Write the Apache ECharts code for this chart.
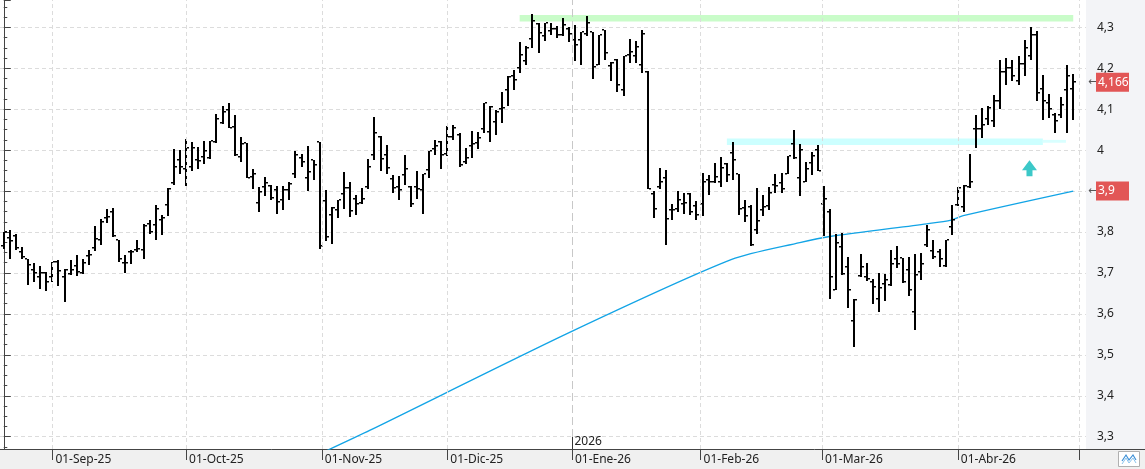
<!DOCTYPE html>
<html>
<head>
<meta charset="utf-8">
<title>Cotización diaria</title>
<script src="https://cdn.jsdelivr.net/npm/echarts@6/dist/echarts.min.js"></script>
<style>
html,body{margin:0;padding:0;background:#fff;}
#chart{width:1145px;height:469px;}
</style>
</head>
<body>
<div id="chart"></div>
<script>
// sesiones: primer día y festivos de mercado
var firstDay = '2025-08-20';
var holidays = ['2025-12-25', '2025-12-26', '2026-01-01', '2026-04-03', '2026-04-06'];

// OHLC
var opens = [3.765,3.785,3.79,3.75,3.733,3.706,3.69,3.70,3.69,3.727,3.69,3.698,3.718,3.70,3.741,3.762,3.781,3.834,3.85,3.781,
3.725,3.75,3.755,3.757,3.819,3.818,3.83,3.866,3.92,3.977,3.955,3.958,3.976,3.983,3.98,4.019,4.066,4.098,4.056,3.983,
4.017,3.935,3.872,3.91,3.912,3.902,3.879,3.903,3.942,3.98,3.932,3.975,4.02,3.875,3.842,3.853,3.893,3.907,3.88,3.87,
3.91,3.989,4.033,3.989,3.93,3.911,3.94,3.911,3.91,3.903,3.952,4.002,4.021,3.99,4.033,4.037,3.971,4.009,4.017,4.052,
4.044,4.068,4.101,4.147,4.181,4.2,4.218,4.271,4.308,4.279,4.292,4.295,4.281,4.296,4.268,4.268,4.284,4.289,4.208,4.293,
4.206,4.22,4.146,4.232,4.23,4.209,4.192,3.893,3.91,3.932,3.853,3.856,3.869,3.893,3.864,3.869,3.928,3.921,3.923,3.965,
3.993,3.942,3.858,3.861,3.805,3.853,3.863,3.915,3.919,3.942,4.014,3.932,3.923,3.968,4.0,3.868,3.848,3.659,3.764,3.715,
3.582,3.692,3.69,3.678,3.636,3.672,3.671,3.735,3.736,3.708,3.605,3.702,3.768,3.754,3.75,3.716,3.813,3.867,3.862,3.909,
4.051,4.051,4.076,4.07,4.12,4.19,4.2,4.17,4.21,4.23,4.28,4.15,4.115,4.085,4.085,4.146,4.15];
var highs = [3.80,3.806,3.794,3.763,3.735,3.725,3.716,3.703,3.726,3.732,3.709,3.732,3.744,3.735,3.757,3.814,3.831,3.857,3.858,3.781,
3.743,3.757,3.78,3.819,3.829,3.865,3.841,3.907,4.003,4.0,4.026,4.021,4.008,4.022,4.022,4.089,4.107,4.116,4.086,4.032,
4.017,3.955,3.91,3.934,3.916,3.912,3.913,3.921,3.998,3.991,4.011,3.976,4.02,3.903,3.861,3.879,3.947,3.923,3.891,3.907,
3.979,4.08,4.035,4.012,3.94,3.936,3.989,3.913,3.948,3.942,3.998,4.025,4.023,4.058,4.062,4.041,4.006,4.046,4.044,4.116,
4.107,4.098,4.143,4.18,4.196,4.263,4.254,4.333,4.31,4.311,4.311,4.303,4.322,4.30,4.306,4.289,4.328,4.289,4.281,4.293,
4.216,4.222,4.23,4.271,4.267,4.293,4.193,3.899,3.956,3.952,3.869,3.899,3.895,3.895,3.875,3.944,3.94,3.968,3.983,3.968,
4.019,3.942,3.879,3.867,3.908,3.891,3.91,3.942,3.944,3.986,4.05,4.016,3.972,3.996,4.012,3.912,3.856,3.796,3.798,3.739,
3.637,3.747,3.725,3.686,3.70,3.697,3.755,3.765,3.736,3.738,3.747,3.749,3.817,3.78,3.758,3.78,3.866,3.909,3.915,3.991,
4.086,4.102,4.108,4.135,4.22,4.225,4.22,4.23,4.27,4.30,4.29,4.184,4.137,4.09,4.129,4.208,4.186];
var lows = [3.759,3.734,3.757,3.734,3.671,3.678,3.66,3.656,3.678,3.669,3.629,3.696,3.693,3.698,3.72,3.754,3.769,3.822,3.788,3.727,
3.701,3.722,3.751,3.734,3.794,3.781,3.793,3.839,3.915,3.942,3.912,3.95,3.954,3.965,3.978,4.017,4.063,4.055,3.986,3.97,
3.933,3.904,3.848,3.888,3.879,3.845,3.854,3.877,3.933,3.958,3.899,3.926,3.759,3.777,3.771,3.834,3.856,3.837,3.842,3.869,
3.904,3.976,3.948,3.942,3.895,3.877,3.914,3.861,3.88,3.843,3.931,3.989,3.954,3.986,4.025,3.96,3.966,3.98,4.003,4.041,
4.021,4.037,4.066,4.107,4.147,4.189,4.207,4.25,4.238,4.267,4.281,4.273,4.278,4.265,4.217,4.207,4.279,4.173,4.208,4.22,
4.17,4.141,4.131,4.212,4.213,4.189,3.905,3.834,3.904,3.769,3.829,3.85,3.845,3.842,3.829,3.839,3.891,3.92,3.911,3.923,
3.928,3.842,3.824,3.767,3.794,3.839,3.853,3.895,3.895,3.942,3.978,3.887,3.921,3.94,3.948,3.79,3.636,3.659,3.696,3.615,
3.519,3.69,3.68,3.625,3.604,3.631,3.669,3.713,3.676,3.643,3.561,3.682,3.764,3.735,3.715,3.715,3.792,3.863,3.848,3.908,
4.006,4.029,4.062,4.056,4.10,4.16,4.17,4.16,4.18,4.22,4.12,4.074,4.078,4.041,4.078,4.043,4.074];
var closes = [3.799,3.777,3.76,3.739,3.72,3.70,3.70,3.678,3.726,3.704,3.708,3.706,3.703,3.724,3.743,3.784,3.825,3.837,3.79,3.735,
3.724,3.751,3.758,3.815,3.80,3.855,3.834,3.906,3.958,3.958,4.004,4.006,3.973,3.999,4.022,4.075,4.092,4.055,3.988,4.014,
3.933,3.941,3.898,3.92,3.882,3.874,3.902,3.918,3.989,3.972,3.946,3.964,3.765,3.788,3.859,3.879,3.907,3.852,3.869,3.88,
3.959,4.041,3.978,3.956,3.907,3.902,3.954,3.869,3.906,3.942,3.998,4.011,3.989,4.031,4.053,3.963,3.98,4.015,4.029,4.115,
4.105,4.094,4.103,4.178,4.172,4.233,4.249,4.316,4.287,4.31,4.295,4.281,4.306,4.284,4.257,4.289,4.31,4.202,4.281,4.237,
4.214,4.159,4.23,4.24,4.251,4.284,3.905,3.856,3.921,3.833,3.854,3.879,3.872,3.848,3.842,3.923,3.921,3.934,3.956,3.94,
3.976,3.856,3.838,3.769,3.826,3.861,3.895,3.913,3.904,3.985,3.98,4.0,3.954,3.985,3.95,3.88,3.69,3.772,3.698,3.658,
3.633,3.715,3.686,3.666,3.663,3.684,3.723,3.723,3.678,3.658,3.694,3.723,3.806,3.739,3.735,3.78,3.829,3.907,3.913,3.923,
4.051,4.062,4.102,4.12,4.19,4.2,4.18,4.21,4.25,4.28,4.14,4.12,4.10,4.07,4.11,4.18,4.166];

// media móvil (sesión, valor)
var maIdx = [53, 60.3, 93.3, 119.8, 131.0, 135.9, 151.9, 155.9, 157.9, 176];
var maVal = [3.265, 3.316, 3.556, 3.733, 3.774, 3.789, 3.820, 3.829, 3.840, 3.900];

// meses del eje
var monthStarts = ['2025-09-01','2025-10-01','2025-11-01','2025-12-01','2026-01-01','2026-02-01','2026-03-01','2026-04-01'];
var monthLabels = ['01-Sep-25','01-Oct-25','01-Nov-25','01-Dic-25','01-Ene-26','01-Feb-26','01-Mar-26','01-Abr-26'];
var yearLabel = '2026';

// niveles dibujados
var topZone = {from: 84.9, to: 176.0, lo: 4.314, hi: 4.330};
var supZone = {from: 119.0, to: 171.0, lo: 4.0125, hi: 4.0284};
var supTail = {from: 171.0, to: 174.8, lo: 4.018, hi: 4.025};
var arrowAt = [168.8, 3.956];

var yMin = 3.270, yMax = 4.3667;

function buildDays(start, count, skip) {
  var out = [], d = new Date(start + 'T00:00:00Z');
  while (out.length < count) {
    var s = d.toISOString().slice(0, 10), wd = d.getUTCDay();
    if (wd !== 0 && wd !== 6 && skip.indexOf(s) < 0) out.push(s);
    d.setUTCDate(d.getUTCDate() + 1);
  }
  return out;
}
var days = buildDays(firstDay, closes.length + 1, holidays);

function posOf(dateStr) {
  var t = Date.parse(dateStr + 'T00:00:00Z');
  for (var i = 0; i < days.length; i++) {
    var ti = Date.parse(days[i] + 'T00:00:00Z');
    if (ti === t) return i;
    if (ti > t) {
      var tp = Date.parse(days[i - 1] + 'T00:00:00Z');
      return i - 1 + (t - tp) / (ti - tp);
    }
  }
  return days.length - 1;
}
var monthPos = monthStarts.map(posOf);
var nextPos = closes.length;   // siguiente sesión
var yearPos = monthPos[4];

function fmt(v) { return String(+v.toFixed(3)).replace('.', ','); }

var ohlc = [];
for (var i = 0; i < closes.length; i++) {
  ohlc.push([i, opens[i], highs[i], lows[i], closes[i]]);
}
var ma = maIdx.map(function (x, k) { return [x, maVal[k]]; });

var chart = echarts.init(document.getElementById('chart'));
var font = 'Noto Sans';

var gridLines = monthPos.map(function (p, k) {
  return {
    xAxis: p,
    lineStyle: k === 4 ? {color: '#c8c8c8', type: [8, 4], width: 1} : {color: '#dcdcdc', type: [4, 3], width: 1}
  };
});
gridLines.push({xAxis: nextPos, lineStyle: {color: '#dcdcdc', type: [4, 3], width: 1}});

// etiqueta roja del último valor sobre el eje
function priceTag(value) {
  return {
    silent: true,
    precision: 3,
    symbol: ['none', 'none'],
    lineStyle: {color: 'rgba(0,0,0,0)', width: 0},
    label: {
      show: true,
      position: 'end',
      distance: 2,
      formatter: function () { return '{a|←}{b|' + fmt(value) + '}'; },
      rich: {
        a: {color: '#555', fontSize: 11, fontFamily: 'DejaVu Sans', width: 8, align: 'left'},
        b: {color: '#fff', backgroundColor: '#e25656', fontSize: 12, fontFamily: font, width: 29, height: 19, lineHeight: 19, padding: [0, 2], align: 'left'}
      }
    },
    data: [{yAxis: value}]
  };
}

chart.setOption({
  animation: false,
  backgroundColor: '#fff',
  grid: {left: 0, right: 59, top: 0, bottom: 20},
  xAxis: {
    type: 'value',
    min: -0.62,
    max: 178.1,
    axisLine: {show: true, onZero: false, lineStyle: {color: '#444', width: 1}},
    axisTick: {show: true, customValues: monthPos.concat([nextPos]), length: 11, lineStyle: {color: '#444'}},
    axisLabel: {
      show: true,
      customValues: monthPos,
      align: 'left',
      margin: 5,
      padding: [0, 0, 0, 3],
      color: '#222',
      fontFamily: font,
      fontSize: 12,
      formatter: function (v) {
        for (var k = 0; k < monthPos.length; k++) {
          if (Math.abs(monthPos[k] - v) < 1e-6) return monthLabels[k];
        }
        return '';
      }
    },
    splitLine: {show: false}
  },
  yAxis: {
    type: 'value',
    position: 'right',
    min: yMin,
    max: yMax,
    minInterval: 0.1,
    maxInterval: 0.1,
    axisLine: {show: true, lineStyle: {color: '#444', width: 1}},
    axisTick: {show: true, length: 7, lineStyle: {color: '#444'}},
    minorTick: {show: true, splitNumber: 4, length: 3.5, lineStyle: {color: '#444'}},
    axisLabel: {
      margin: 11,
      color: '#222',
      fontFamily: font,
      fontSize: 12,
      showMinLabel: false,
      showMaxLabel: false,
      formatter: function (v) { return fmt(Math.round(v * 10) / 10); }
    },
    splitLine: {show: true, showMinLine: false, showMaxLine: false, lineStyle: {color: '#dcdcdc', type: [4, 3]}}
  },
  graphic: [
    {type: 'rect', z: -10, silent: true, shape: {x: 1086, y: 0, width: 59, height: 449}, style: {fill: '#f3f4f7'}},
    {type: 'rect', z: -10, silent: true, shape: {x: 0, y: 449, width: 1145, height: 20}, style: {fill: '#f0f0f0'}},
    {type: 'line', z: 5, silent: true, shape: {x1: 1086, y1: 449.5, x2: 1145, y2: 449.5}, style: {stroke: '#444', lineWidth: 1}},
    {type: 'rect', z: 5, silent: true, shape: {x: 1118.5, y: 451.5, width: 21, height: 15}, style: {fill: '#fff', stroke: '#b0b0b0', lineWidth: 1}},
    {type: 'polyline', z: 6, silent: true, shape: {points: [[1122, 461], [1126, 455], [1129, 460], [1133, 455], [1136, 460]]}, style: {stroke: '#3d8fd6', lineWidth: 1.2, fill: null}},
    {type: 'polyline', z: 6, silent: true, shape: {points: [[1122, 464], [1126, 458], [1129, 463], [1133, 458], [1136, 463]]}, style: {stroke: '#8cc4ee', lineWidth: 1, fill: null}}
  ],
  series: [
    {
      name: 'guias',
      type: 'line',
      data: [],
      z: 1,
      silent: true,
      markLine: {silent: true, symbol: ['none', 'none'], label: {show: false}, data: gridLines, animation: false},
      markArea: {
        silent: true,
        data: [
          [{xAxis: topZone.from, yAxis: topZone.lo, itemStyle: {color: '#c9fcc9'}}, {xAxis: topZone.to, yAxis: topZone.hi}],
          [{xAxis: supZone.from, yAxis: supZone.lo, itemStyle: {color: '#ccffff'}}, {xAxis: supZone.to, yAxis: supZone.hi}],
          [{xAxis: supTail.from, yAxis: supTail.lo, itemStyle: {color: '#d9ffff'}}, {xAxis: supTail.to, yAxis: supTail.hi}]
        ]
      },
      markPoint: {
        silent: true,
        symbol: 'path://M7.5 0 L15 10 L10.5 10 L10.5 16 L4.5 16 L4.5 10 L0 10 Z',
        symbolSize: [15, 16],
        itemStyle: {color: '#3cc8c8'},
        label: {show: false},
        data: [{coord: arrowAt}]
      }
    },
    {
      name: 'MM',
      type: 'line',
      data: ma,
      z: 3,
      symbol: 'none',
      smooth: 0.25,
      silent: true,
      lineStyle: {color: '#12a4e6', width: 1.3},
      markLine: priceTag(maVal[maVal.length - 1])
    },
    {
      name: 'OHLC',
      type: 'custom',
      z: 4,
      silent: true,
      data: ohlc,
      encode: {x: 0, y: [1, 2, 3, 4]},
      renderItem: function (params, api) {
        var x = api.value(0);
        var o = api.coord([x, api.value(1)]);
        var h = api.coord([x, api.value(2)]);
        var l = api.coord([x, api.value(3)]);
        var c = api.coord([x, api.value(4)]);
        var px = Math.round(h[0]);
        var top = Math.round(h[1]), bot = Math.max(Math.round(l[1]), top + 1);
        return {
          type: 'group',
          children: [
            {type: 'rect', shape: {x: px - 1, y: top, width: 2, height: bot - top}, style: {fill: '#000'}},
            {type: 'rect', shape: {x: px - 3, y: Math.round(o[1]) - 1, width: 2, height: 1.5}, style: {fill: '#000'}},
            {type: 'rect', shape: {x: px + 1, y: Math.round(c[1]) - 1, width: 2, height: 1.5}, style: {fill: '#000'}}
          ]
        };
      },
      markLine: priceTag(closes[closes.length - 1])
    },
    {
      name: 'anio',
      type: 'custom',
      z: 5,
      silent: true,
      data: [[yearPos]],
      renderItem: function (params, api) {
        var p = api.coord([api.value(0), yMin]);
        var px = Math.round(p[0]) + 0.5;
        return {
          type: 'group',
          children: [
            {type: 'line', shape: {x1: px, y1: p[1] - 12, x2: px, y2: p[1]}, style: {stroke: '#333', lineWidth: 1}},
            {type: 'text', x: px + 2, y: p[1] - 7, style: {text: yearLabel, fill: '#222', font: '12px "Noto Sans"', verticalAlign: 'middle'}}
          ]
        };
      }
    }
  ]
});
</script>
</body>
</html>
